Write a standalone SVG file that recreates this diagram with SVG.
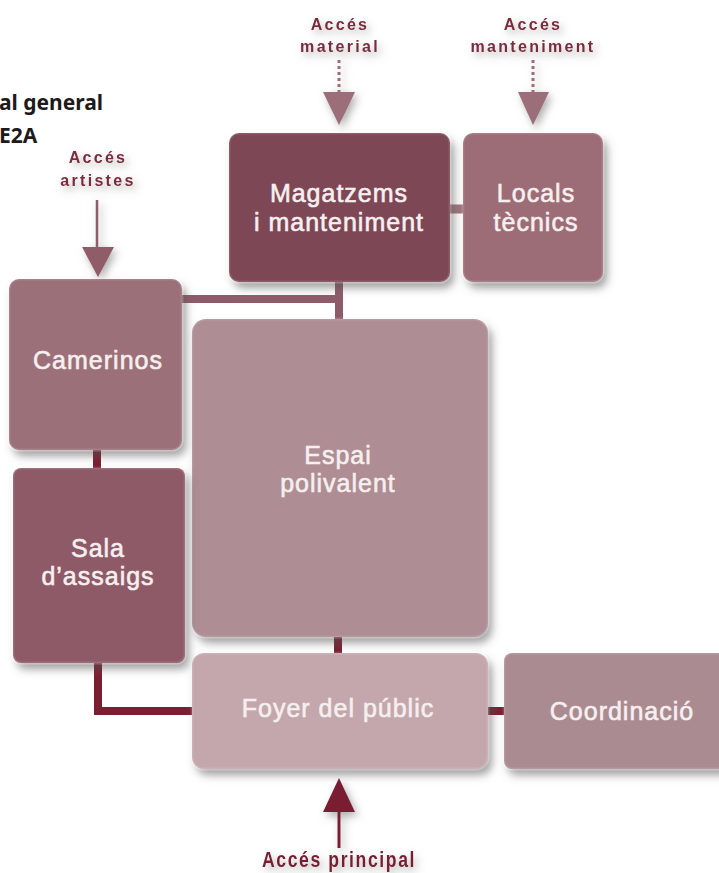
<svg xmlns="http://www.w3.org/2000/svg" width="719" height="873" viewBox="0 0 719 873">
<defs>
<filter id="sh" x="-20%" y="-20%" width="150%" height="150%">
<feDropShadow dx="4" dy="6" stdDeviation="4" flood-color="#555" flood-opacity="0.55"/>
</filter>
<filter id="tsh" x="-30%" y="-60%" width="160%" height="220%">
<feDropShadow dx="3" dy="4" stdDeviation="4" flood-color="#777" flood-opacity="0.6"/>
</filter>
<style>
.box{stroke:#ffffff;stroke-opacity:0.12;stroke-width:3}
.lbl{font-family:"Liberation Sans",Arial,sans-serif;font-size:25px;letter-spacing:1px;fill:#f5efef;stroke:#f5efef;stroke-width:0.6;text-anchor:middle}
.acc{font-family:"Liberation Sans",Arial,sans-serif;font-size:16px;font-weight:bold;letter-spacing:2.3px;fill:#7b2a3d;text-anchor:middle}
.title{font-family:"Noto Sans","Liberation Sans",sans-serif;font-size:21px;font-weight:bold;fill:#1e1a1b}
.dk{stroke:#7a1f32;stroke-width:8;fill:none}
.md{stroke:#8e5c69;stroke-width:8;fill:none}
</style>
</defs>
<rect width="719" height="873" fill="#ffffff"/>

<g id="title">
<text class="title" x="-1" y="110">al general</text>
<text class="title" x="-1" y="143">E2A</text>
</g>

<g id="connectors">
<line class="md" x1="339" y1="280" x2="339" y2="320"/>
<line class="md" x1="180" y1="299" x2="343" y2="299"/>
<line x1="448" y1="209" x2="465" y2="209" stroke="#a27580" stroke-width="9"/>
<line class="dk" x1="97" y1="448" x2="97" y2="470"/>
<line class="dk" x1="338" y1="635" x2="338" y2="655"/>
<polyline class="dk" points="98,660 98,711 194,711"/>
<line class="dk" x1="485" y1="711" x2="507" y2="711"/>
<g filter="url(#tsh)">
<line x1="97" y1="200" x2="97" y2="248" stroke="#8f5c68" stroke-width="2.5"/>
<polygon points="82,247 114,247 98,277" fill="#8f5c68"/>
<line x1="339" y1="60" x2="339" y2="92" stroke="#9c6e79" stroke-width="3" stroke-dasharray="3 3"/>
<polygon points="323,92 355,92 339,125" fill="#9c6e79"/>
<line x1="533" y1="60" x2="533" y2="92" stroke="#9c6e79" stroke-width="3" stroke-dasharray="3 3"/>
<polygon points="518,92 549,92 533,125" fill="#9c6e79"/>
<polygon points="339,778 323,812 355,812" fill="#7a1f32"/>
<line x1="339" y1="811" x2="339" y2="848" stroke="#7a1f32" stroke-width="3"/>
</g>
</g>

<g id="acc-artistes" filter="url(#tsh)">
<text class="acc" x="98" y="163">Accés</text>
<text class="acc" x="98" y="186">artistes</text>
</g>
<g id="acc-material" filter="url(#tsh)">
<text class="acc" x="340" y="30">Accés</text>
<text class="acc" x="340" y="52">material</text>
</g>
<g id="acc-manteniment" filter="url(#tsh)">
<text class="acc" x="533" y="30">Accés</text>
<text class="acc" x="533" y="52">manteniment</text>
</g>
<g id="acc-principal" filter="url(#tsh)">
<text class="acc" transform="translate(339,867) scale(0.8,1)" x="0" y="0" style="font-size:22px;letter-spacing:2px;fill:#7a1f32">Accés principal</text>
</g>

<g id="magatzems">
<rect class="box" x="229" y="133" width="221" height="149" rx="10" fill="#7e4654" filter="url(#sh)"/>
<text class="lbl" x="339" y="202">Magatzems</text>
<text class="lbl" x="339" y="231">i manteniment</text>
</g>
<g id="locals">
<rect class="box" x="463" y="133" width="140" height="149" rx="10" fill="#9c6d77" filter="url(#sh)"/>
<text class="lbl" x="536" y="202">Locals</text>
<text class="lbl" x="536" y="231">tècnics</text>
</g>
<g id="camerinos">
<rect class="box" x="9" y="279" width="173" height="171" rx="10" fill="#9c6f79" filter="url(#sh)"/>
<text class="lbl" x="98" y="369">Camerinos</text>
</g>
<g id="espai">
<rect class="box" x="192" y="319" width="296" height="318" rx="14" fill="#ae8d94" filter="url(#sh)"/>
<text class="lbl" x="338" y="464">Espai</text>
<text class="lbl" x="338" y="492">polivalent</text>
</g>
<g id="sala">
<rect class="box" x="13" y="468" width="172" height="195" rx="8" fill="#8f5a67" filter="url(#sh)"/>
<text class="lbl" x="98" y="557">Sala</text>
<text class="lbl" x="98" y="585">d’assaigs</text>
</g>
<g id="foyer">
<rect class="box" x="192" y="653" width="296" height="116" rx="12" fill="#c4a7ac" filter="url(#sh)"/>
<text class="lbl" x="338" y="717">Foyer del públic</text>
</g>
<g id="coordinacio">
<rect class="box" x="504" y="653" width="225" height="116" rx="8" fill="#aa8b91" filter="url(#sh)"/>
<text class="lbl" x="622" y="720">Coordinació</text>
</g>
</svg>
